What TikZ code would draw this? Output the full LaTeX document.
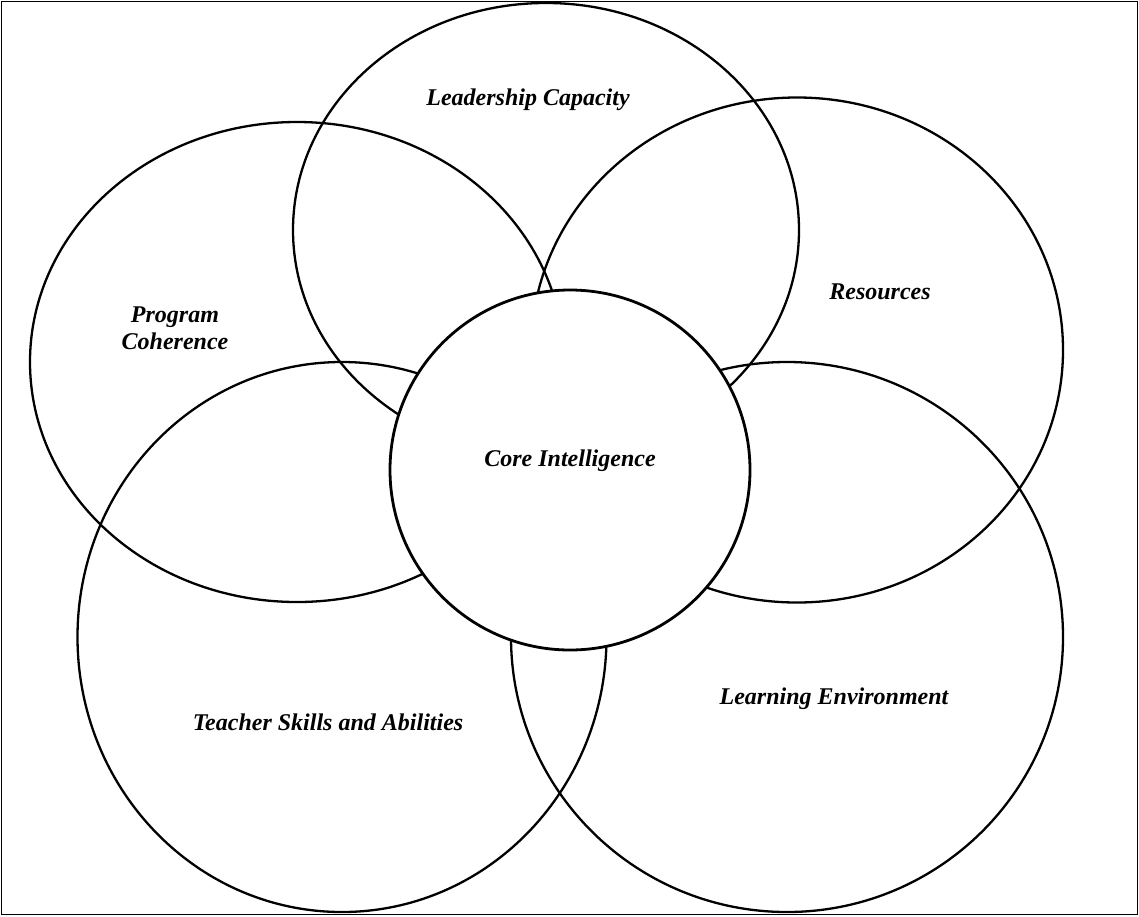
\documentclass[tikz,border=0pt]{standalone}
\usepackage{fontspec}
\setmainfont{Liberation Serif}
\usetikzlibrary{shapes.geometric}
\begin{document}
\begin{tikzpicture}[x=1pt,y=-1pt,
  petal/.style={draw, ellipse, line width=2.3pt, inner sep=0pt},
  core/.style={draw, circle, fill=white, line width=2.8pt, inner sep=0pt, minimum size=360pt},
  lbl/.style={font=\fontsize{24}{27}\selectfont\bfseries\itshape, align=center, inner sep=0pt}]
\useasboundingbox (0,0) rectangle (1139,916);
\draw[line width=1.6pt] (1.5,1.5) rectangle (1137.5,914.5);
\node[petal, minimum width=506pt, minimum height=454pt] (lead) at (546,230) {};
\node[petal, minimum width=532pt, minimum height=505pt] (res) at (797,350) {};
\node[petal, minimum width=534pt, minimum height=480pt] (prog) at (297,362) {};
\node[petal, minimum width=529pt, minimum height=550pt] (teach) at (342,637) {};
\node[petal, minimum width=552pt, minimum height=550pt] (learn) at (787,637) {};
\node[core] (corec) at (570,470) {};
\node[lbl] (tlead) at (528,100) {Leadership Capacity};
\node[lbl] (tres) at (880,292) {Resources};
\node[lbl] (tprog) at (175,328) {Program\\Coherence};
\node[lbl] (tcore) at (570,461) {Core Intelligence};
\node[lbl] (tteach) at (328,722) {Teacher Skills and Abilities};
\node[lbl] (tlearn) at (834,699) {Learning Environment};
\end{tikzpicture}
\end{document}
